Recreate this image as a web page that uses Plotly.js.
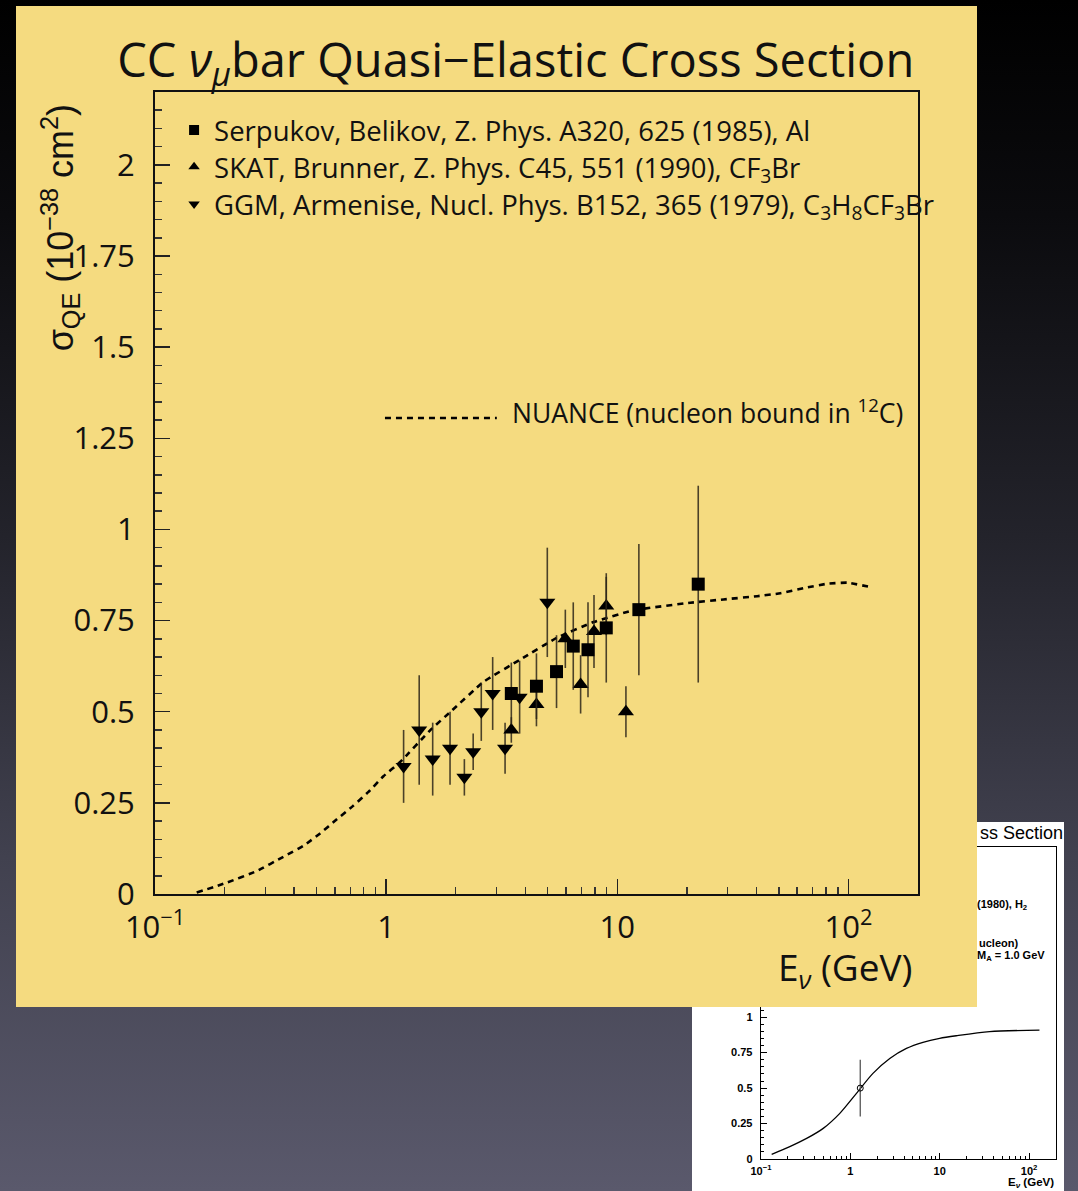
<!DOCTYPE html>
<html>
<head>
<meta charset="utf-8">
<script src="https://cdn.plot.ly/plotly-3.0.1.min.js"></script>
<style>
html,body{margin:0;padding:0;width:1078px;height:1191px;overflow:hidden;}
body{background:linear-gradient(180deg,#000000 0%,#0b0b0e 18%,#23232b 45%,#41414f 72%,#5a596c 100%);position:relative;}
#small{position:absolute;left:692px;top:822px;width:372px;height:369px;background:#ffffff;z-index:1;}
#main{position:absolute;left:16px;top:6px;width:961px;height:1001px;z-index:2;}
</style>
</head>
<body>
<div id="small"></div>
<div id="main"></div>
<script>
// ---------------- data (main chart) ----------------
const serpX   = [3.48, 4.47, 5.46, 6.45, 7.47, 8.96, 12.4, 22.4];
const serpY   = [0.55, 0.57, 0.61, 0.68, 0.67, 0.73, 0.78, 0.85];
const serpErr = [0.085, 0.09, 0.10, 0.12, 0.13, 0.15, 0.18, 0.27];

const skatX   = [3.48, 4.47, 5.96, 6.94, 7.93, 8.96, 10.9];
const skatY   = [0.45, 0.52, 0.70, 0.575, 0.72, 0.79, 0.50];
const skatErr = [0.035, 0.06, 0.08, 0.08, 0.10, 0.08, 0.07];

const ggmX    = [1.19, 1.39, 1.59, 1.89, 2.18, 2.38, 2.58, 2.89, 3.27, 3.78, 4.98];
const ggmY    = [0.35, 0.45, 0.37, 0.40, 0.32, 0.39, 0.50, 0.55, 0.40, 0.54, 0.80];
const ggmErr  = [0.10, 0.15, 0.10, 0.10, 0.05, 0.05, 0.08, 0.10, 0.07, 0.10, 0.15];

const nuanceX = [0.1515, 0.2043, 0.2756, 0.3592, 0.4385, 0.5178, 0.6118, 0.7176, 0.8384, 0.9734, 1.15, 1.55, 1.93, 2.64, 3.8, 5.48, 7.9, 11.7, 20.7, 28.8, 40.3, 50.8, 64.1, 80.9, 98.7, 124.5];
const nuanceY = [0.004, 0.031, 0.063, 0.102, 0.132, 0.166, 0.205, 0.241, 0.280, 0.323, 0.362, 0.449, 0.504, 0.582, 0.643, 0.703, 0.746, 0.778, 0.799, 0.808, 0.817, 0.825, 0.839, 0.851, 0.854, 0.842];

const legendNames = [
  'Serpukov, Belikov, Z. Phys. A320, 625 (1985), Al',
  'SKAT, Brunner, Z. Phys. C45, 551 (1990), CF<sub>3</sub>Br',
  'GGM, Armenise, Nucl. Phys. B152, 365 (1979), C<sub>3</sub>H<sub>8</sub>CF<sub>3</sub>Br'
];
const nuanceLabel = 'NUANCE (nucleon bound in <sup>12</sup>C)';

const xTickVals = [0.1, 1, 10, 100];
const xTickText = ['10<sup>−1</sup>', '1', '10', '10<sup>2</sup>'];
const xMinorVals = [0.2,0.3,0.4,0.5,0.6,0.7,0.8,0.9, 2,3,4,5,6,7,8,9, 20,30,40,50,60,70,80,90, 200];
const yTickVals = [0, 0.25, 0.5, 0.75, 1, 1.25, 1.5, 1.75, 2];
const yTickText = ['0', '0.25', '0.5', '0.75', '1', '1.25', '1.5', '1.75', '2'];

// ---------------- data (small background chart) ----------------
const smallCurveX = [0.1316, 0.21, 0.324, 0.497, 0.762, 1.17, 1.79, 2.76, 4.24, 6.49, 9.98, 15.3, 36.1, 130.6];
const smallCurveY = [0.033, 0.087, 0.145, 0.216, 0.322, 0.463, 0.604, 0.709, 0.780, 0.823, 0.851, 0.869, 0.898, 0.909];
const smallPtX = [1.29];
const smallPtY = [0.5];
const smallPtErr = [0.2];
const smallYTickText = ['0', '0.25', '0.5', '0.75', '1', '', '', '', ''];

const FONT = 'Open Sans, Liberation Sans, Arial, sans-serif';
const SFONT = 'Liberation Sans, Arial, sans-serif';
const errColor = 'rgba(45,38,25,0.85)';

// ---------------- main chart ----------------
const markerColor = '#000000';
function dataTrace(x, y, e, sym, size) {
  return {
    type: 'scatter', mode: 'markers', x: x, y: y, showlegend: false,
    marker: {symbol: sym, size: size, color: markerColor},
    error_y: {type: 'data', array: e, visible: true, color: errColor, thickness: 1.6, width: 0}
  };
}
function legendTrace(name, sym, leg) {
  return {
    type: 'scatter', mode: 'markers', x: [null], y: [null], name: name,
    showlegend: true, legend: leg,
    marker: {symbol: sym, size: 10, color: markerColor}
  };
}

const mainTraces = [
  {type: 'scatter', mode: 'lines', x: nuanceX, y: nuanceY, showlegend: false,
   line: {color: '#000', width: 2.6, dash: '6px,5px', shape: 'spline', smoothing: 0.4}},
  dataTrace(ggmX, ggmY, ggmErr, 'triangle-down', 14),
  dataTrace(skatX, skatY, skatErr, 'triangle-up', 14),
  dataTrace(serpX, serpY, serpErr, 'square', 13),
  legendTrace(legendNames[0], 'square', 'legend'),
  legendTrace(legendNames[1], 'triangle-up', 'legend2'),
  legendTrace(legendNames[2], 'triangle-down', 'legend3')
];

const axisCommon = {
  showline: true, linecolor: '#111', linewidth: 2, mirror: true,
  showgrid: false, zeroline: false,
  ticks: 'inside', ticklen: 15, tickwidth: 1.5, tickcolor: '#222',
  tickfont: {size: 31, family: FONT, color: '#111'}
};

function legendBox(yc) {
  return {x: 0.025, y: yc, xanchor: 'left', yanchor: 'middle', bgcolor: 'rgba(0,0,0,0)',
          font: {size: 27.5, family: FONT, color: '#111'}, itemwidth: 30};
}

const mainLayout = {
  width: 961, height: 1001,
  margin: {l: 139, r: 59, t: 86, b: 113},
  paper_bgcolor: '#f5db80', plot_bgcolor: 'rgba(0,0,0,0)',
  font: {family: FONT, color: '#111'},
  title: {text: 'CC <i>ν</i><sub><i>μ</i></sub>bar Quasi−Elastic Cross Section',
          font: {size: 47, family: FONT, color: '#111'},
          x: 0.52, xanchor: 'center', xref: 'container',
          y: 0.946, yanchor: 'middle', yref: 'container'},
  xaxis: Object.assign({}, axisCommon, {
    type: 'log', range: [-1, Math.log10(200)],
    tickmode: 'array', tickvals: xTickVals, ticktext: xTickText, ticklabelstandoff: 5,
    minor: {tickmode: 'array', tickvals: xMinorVals, ticks: 'inside', ticklen: 7, tickwidth: 1.5, tickcolor: '#333', showgrid: false}
  }),
  yaxis: Object.assign({}, axisCommon, {
    range: [0, 2.2],
    tickmode: 'array', tickvals: yTickVals, ticktext: yTickText, ticklabelstandoff: 12,
    minor: {dtick: 0.05, ticks: 'inside', ticklen: 7, tickwidth: 1.5, tickcolor: '#333', showgrid: false}
  }),
  showlegend: true,
  legend: legendBox(0.9526),
  legend2: legendBox(0.9065),
  legend3: legendBox(0.8603),
  shapes: [
    {type: 'line', xref: 'paper', yref: 'paper', x0: 0.3014, x1: 0.448, y0: 0.5935, y1: 0.5935,
     line: {color: '#000', width: 2.4, dash: '6px,5px'}}
  ],
  annotations: [
    {text: nuanceLabel, xref: 'paper', yref: 'paper', x: 0.4653, y: 0.602, xanchor: 'left', yanchor: 'middle',
     showarrow: false, font: {size: 26.5, family: FONT, color: '#111'}},
    {text: 'σ<sub>QE</sub> (10<sup>−38</sup> cm<sup>2</sup>)', xref: 'paper', yref: 'paper',
     x: -0.1245, y: 0.83, xanchor: 'center', yanchor: 'middle', textangle: -90, showarrow: false,
     font: {size: 36, family: SFONT, color: '#111'}},
    {text: 'E<sub><i>ν</i></sub> (GeV)', xref: 'paper', yref: 'paper',
     x: 0.996, y: -0.094, xanchor: 'right', yanchor: 'middle', showarrow: false,
     font: {size: 37, family: FONT, color: '#111'}}
  ]
};

Plotly.newPlot('main', mainTraces, mainLayout, {staticPlot: true, displayModeBar: false});

// ---------------- small background chart ----------------
const smallTraces = [
  {type: 'scatter', mode: 'lines', x: smallCurveX, y: smallCurveY, showlegend: false,
   line: {color: '#000', width: 1.3, shape: 'spline', smoothing: 0.8}},
  {type: 'scatter', mode: 'markers', x: smallPtX, y: smallPtY, showlegend: false,
   marker: {symbol: 'circle-open', size: 6, color: '#000', line: {width: 1}},
   error_y: {type: 'data', array: smallPtErr, visible: true, color: '#555', thickness: 1.3, width: 0}}
];
const smallAxis = {
  showline: true, linecolor: '#000', linewidth: 1.3, mirror: true,
  showgrid: false, zeroline: false,
  ticks: 'inside', ticklen: 6, tickwidth: 1, tickcolor: '#000',
  tickfont: {size: 11, family: SFONT, color: '#000', weight: 'bold'}
};
const smallLayout = {
  width: 372, height: 369,
  margin: {l: 69, r: 8, t: 25, b: 32},
  paper_bgcolor: '#ffffff', plot_bgcolor: '#ffffff',
  font: {family: SFONT, color: '#000'},
  showlegend: false,
  xaxis: Object.assign({}, smallAxis, {
    type: 'log', range: [-1, Math.log10(200)],
    tickmode: 'array', tickvals: xTickVals, ticktext: xTickText, ticklabelstandoff: 1,
    minor: {tickmode: 'array', tickvals: xMinorVals, ticks: 'inside', ticklen: 3, tickwidth: 1, tickcolor: '#000', showgrid: false}
  }),
  yaxis: Object.assign({}, smallAxis, {
    range: [0, 2.2],
    tickmode: 'array', tickvals: yTickVals, ticktext: smallYTickText, ticklabelstandoff: 5,
    minor: {dtick: 0.05, ticks: 'inside', ticklen: 3, tickwidth: 1, tickcolor: '#000', showgrid: false}
  }),
  annotations: [
    {text: 'ss Section', xref: 'paper', yref: 'paper', x: 0.734, y: 1.045, xanchor: 'left', yanchor: 'middle',
     showarrow: false, font: {size: 18, family: SFONT, color: '#000'}},
    {text: '(1980), H<sub>2</sub>', xref: 'paper', yref: 'paper', x: 0.727, y: 0.814, xanchor: 'left', yanchor: 'middle',
     showarrow: false, font: {size: 11, family: SFONT, color: '#000', weight: 'bold'}},
    {text: 'ucleon)', xref: 'paper', yref: 'paper', x: 0.732, y: 0.692, xanchor: 'left', yanchor: 'middle',
     showarrow: false, font: {size: 11, family: SFONT, color: '#000', weight: 'bold'}},
    {text: 'M<sub>A</sub> = 1.0 GeV', xref: 'paper', yref: 'paper', x: 0.727, y: 0.651, xanchor: 'left', yanchor: 'middle',
     showarrow: false, font: {size: 11, family: SFONT, color: '#000', weight: 'bold'}},
    {text: 'E<sub><i>ν</i></sub> (GeV)', xref: 'paper', yref: 'paper', x: 1.0, y: -0.077, xanchor: 'right', yanchor: 'middle',
     showarrow: false, font: {size: 11.5, family: SFONT, color: '#000', weight: 'bold'}}
  ]
};
Plotly.newPlot('small', smallTraces, smallLayout, {staticPlot: true, displayModeBar: false});
</script>
</body>
</html>
